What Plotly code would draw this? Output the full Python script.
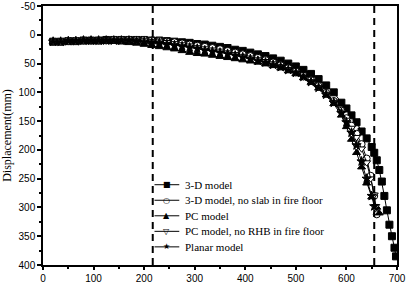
import plotly.graph_objects as go

# ---- data ----
x_3d = [20,35,50,65,80,95,110,125,140,155,170,185,200,215,230,245,260,275,290,305,320,335,350,365,380,395,410,425,440,455,470,485,500,515,530,545,560,575,590,600,610,620,630,640,650,655,660,665,670,675,680,685,690,695,698]
y_3d = [12,12,11,11,10,10,10,9,9,9,9,9,9,10,10,11,12,13,14,16,17,19,21,23,26,28,31,34,37,41,45,50,55,61,68,77,88,100,118,128,140,152,168,180,195,205,218,235,255,280,305,330,350,370,385]

x_noslab = [20,35,50,65,80,95,110,125,140,155,170,185,200,215,230,245,260,275,290,305,320,335,350,365,380,395,410,425,440,455,470,485,500,515,530,545,560,575,590,600,610,620,630,640,648,655,660]
y_noslab = [12,12,11,11,10,10,10,10,9,9,9,9,9,10,11,12,13,15,17,19,21,23,25,28,31,34,37,40,44,48,53,58,64,71,79,89,101,115,132,145,158,172,190,215,245,280,312]

x_pc = [20,35,50,65,80,95,110,125,140,155,170,185,200,215,230,245,260,275,290,305,320,335,350,365,380,395,410,425,440,455,470,485,500,515,530,545,560,575,590,600,610,620,630,640,650,660,665]
y_pc = [12,12,11,11,11,11,11,12,12,13,14,15,17,19,21,23,25,28,31,33,34,36,38,40,42,44,46,48,51,54,58,63,68,75,83,93,105,120,140,160,182,205,230,258,282,300,310]

x_pcnorhb = [20,35,50,65,80,95,110,125,140,155,170,185,200,215,230,245,260,275,290,305,320,335,350,365,380,395,410,425,440,455,470,485,500,515,530,545,560,575,590,600,610,620,630,640,648,655,658]
y_pcnorhb = [12,12,11,11,10,10,10,10,10,10,10,10,10,11,12,13,15,17,19,22,24,26,28,31,34,37,40,43,46,50,55,60,66,73,81,91,103,117,134,148,162,178,198,222,250,278,298]

x_planar = [20,35,50,65,80,95,110,125,140,155,170,185,200,215,230,245,260,275,290,305,320,335,350,365,380,395,410,425,440,455,470,485,500,515,530,545,560,575,590,600,610,620,630,640,650,655]
y_planar = [12,12,11,11,10,10,10,10,10,10,10,11,12,13,14,16,18,20,22,24,27,29,31,33,36,39,42,45,48,52,56,61,66,73,82,92,104,118,136,152,170,192,220,250,280,298]

names = ["3-D model", "3-D model, no slab in fire floor", "PC model",
         "PC model, no RHB in fire floor", "Planar model"]
legend_glyphs = ["■", "○", "▲", "▽", "★"]

x_ticks = [0, 100, 200, 300, 400, 500, 600, 700]
x_ticktext = ["0", "100", "200", "300", "400", "500", "600", "700"]
y_ticks = [-50, 0, 50, 100, 150, 200, 250, 300, 350, 400]
y_ticktext = ["-50", "0", "50", "100", "150", "200", "250", "300", "350", "400"]
dash_x = [217, 655]

series = [
    (x_3d, y_3d, "square", "black"),
    (x_noslab, y_noslab, "circle", "white"),
    (x_pc, y_pc, "triangle-up", "black"),
    (x_pcnorhb, y_pcnorhb, "triangle-down", "white"),
    (x_planar, y_planar, "star", "black"),
]

fig = go.Figure()
for (xs, ys, sym, fill), nm in zip(series, names):
    fig.add_trace(go.Scatter(
        x=xs, y=ys, name=nm, mode="lines+markers", showlegend=False,
        line=dict(color="black", width=1),
        marker=dict(symbol=sym, size=7, color=fill,
                    line=dict(color="black", width=1)),
    ))

for dx in dash_x:
    fig.add_shape(type="line", xref="x", yref="paper", x0=dx, x1=dx, y0=0, y1=1,
                  line=dict(color="black", width=2, dash="7px,5px"))

# legend (compact, drawn in paper coordinates like the original)
leg_x0, leg_x1, leg_text_x = 0.315, 0.385, 0.395
leg_top, leg_step = 0.31, 0.06
for i, (nm, g) in enumerate(zip(names, legend_glyphs)):
    yy = leg_top - i * leg_step
    fig.add_shape(type="line", xref="paper", yref="paper", x0=leg_x0, x1=leg_x1,
                  y0=yy, y1=yy, line=dict(color="black", width=1))
    fig.add_annotation(xref="paper", yref="paper", x=(leg_x0 + leg_x1) / 2, y=yy,
                       text=g, showarrow=False, xanchor="center", yanchor="middle",
                       bgcolor="rgba(0,0,0,0)",
                       font=dict(family="DejaVu Sans", size=8, color="black"))
    fig.add_annotation(xref="paper", yref="paper", x=leg_text_x, y=yy,
                       text=nm, showarrow=False, xanchor="left", yanchor="middle",
                       font=dict(family="Liberation Serif, Times New Roman", size=11, color="black"))

tickfont = dict(family="Liberation Sans, Arial", size=10, color="black")
fig.update_layout(
    width=406, height=284,
    margin=dict(l=43, r=9, t=6, b=19, autoexpand=False),
    paper_bgcolor="white", plot_bgcolor="white",
    showlegend=False,
    xaxis=dict(range=[0, 700], tickvals=x_ticks, ticktext=x_ticktext, ticks="outside", ticklen=3,
               tickwidth=1.5, tickcolor="black", showgrid=False, zeroline=False,
               showline=True, linecolor="black", linewidth=1.5, mirror=True,
               tickfont=tickfont, automargin=False,
               minor=dict(dtick=50, ticks="outside", ticklen=2, tickcolor="black", showgrid=False)),
    yaxis=dict(range=[400, -50], tickvals=y_ticks, ticktext=y_ticktext, ticks="outside", ticklen=4,
               tickwidth=1.5, tickcolor="black", showgrid=False, zeroline=False,
               showline=True, linecolor="black", linewidth=1.5, mirror=True,
               tickfont=tickfont, automargin=False,
               title=dict(text="Displacement(mm)", standoff=4,
                          font=dict(family="Liberation Serif, Times New Roman", size=12, color="black")),
               minor=dict(dtick=25, tick0=-50, ticks="outside", ticklen=2, tickcolor="black", showgrid=False)),
)

fig.write_html("out.html", config={"displayModeBar": False},
               post_script="document.body.style.margin='0px';document.body.style.padding='0px';")
